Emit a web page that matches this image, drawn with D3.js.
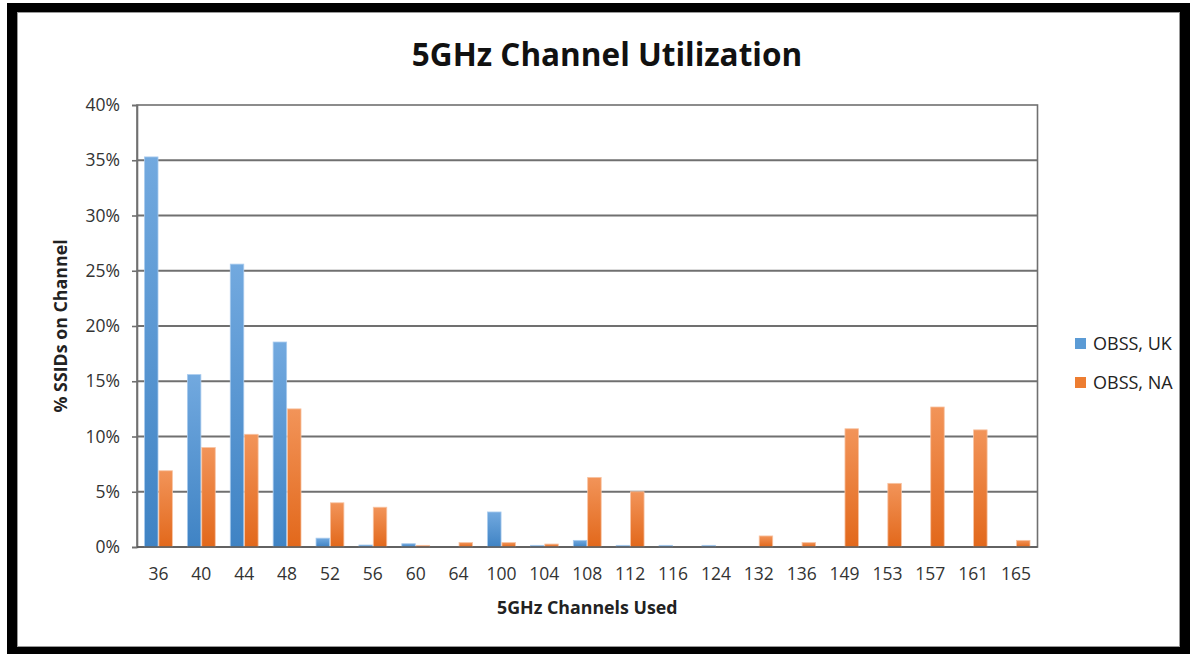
<!DOCTYPE html>
<html lang="en">
<head>
    <meta charset="UTF-8">
    <title>5GHz Channel Utilization</title>
    <style>
        body { margin: 0; background: #fff; }
        svg { display: block; font-family: "Open Sans", Arial, sans-serif; }
        .grid line { stroke: #707070; stroke-width: 1.8px; }
        .tick text { fill: #333; font-family: "Open Sans", Arial, sans-serif; }
    </style>
</head>
<body>
<div id="chart"></div>
<script src="https://d3js.org/d3.v7.min.js"></script>
<script>
    const channels = ["36", "40", "44", "48", "52", "56", "60", "64", "100", "104", "108",
                      "112", "116", "124", "132", "136", "149", "153", "157", "161", "165"];
    const obssUK = [35.3, 15.6, 25.6, 18.55, 0.8, 0.18, 0.3, 0, 3.17, 0.15, 0.6,
                    0.15, 0.15, 0.15, 0, 0, 0, 0, 0, 0, 0];
    const obssNA = [6.9, 9.0, 10.2, 12.5, 4.0, 3.6, 0.15, 0.4, 0.4, 0.27, 6.3,
                    5.0, 0, 0, 1.0, 0.4, 10.7, 5.76, 12.67, 10.6, 0.6];
    const seriesNames = ["OBSS, UK", "OBSS, NA"];
    const yTicks = [0, 5, 10, 15, 20, 25, 30, 35, 40];

    const W = 1190, H = 654;
    const plot = { left: 137, top: 105, right: 1037.5, bottom: 547 };

    const svg = d3.select("#chart").append("svg")
        .attr("width", W).attr("height", H);

    // gradients (lighter at the top)
    const defs = svg.append("defs");
    const grads = [
        { id: "gUK", top: "#72a9df", bottom: "#3f83c4", edge: "#a9cbee" },
        { id: "gNA", top: "#f29459", bottom: "#e2681b", edge: "#f8c3a2" }
    ];
    grads.forEach(g => {
        const lg = defs.append("linearGradient").attr("id", g.id)
            .attr("x1", 0).attr("y1", 0).attr("x2", 0).attr("y2", 1);
        lg.append("stop").attr("offset", "0%").attr("stop-color", g.top);
        lg.append("stop").attr("offset", "100%").attr("stop-color", g.bottom);
    });

    const x0 = d3.scaleBand().domain(channels)
        .range([plot.left, plot.right]).paddingInner(0.31).paddingOuter(0.155);
    const x1 = d3.scaleBand().domain(seriesNames)
        .range([0, x0.bandwidth()]).padding(0.06);
    const y = d3.scaleLinear().domain([0, 40]).range([plot.bottom, plot.top]);

    // gridlines
    svg.append("g").attr("class", "grid")
        .selectAll("line").data(yTicks.slice(1, -1)).join("line")
        .attr("x1", plot.left).attr("x2", plot.right)
        .attr("y1", d => y(d)).attr("y2", d => y(d));

    // plot frame
    svg.append("rect")
        .attr("x", plot.left).attr("y", plot.top)
        .attr("width", plot.right - plot.left).attr("height", plot.bottom - plot.top)
        .attr("fill", "none").attr("stroke", "#707070").attr("stroke-width", 1.6);

    // y axis
    const yAxis = svg.append("g")
        .attr("transform", `translate(${plot.left},0)`)
        .call(d3.axisLeft(y).tickValues(yTicks).tickFormat(d => d + "%").tickSize(5).tickPadding(12));
    yAxis.attr("font-family", null);
    yAxis.select(".domain").attr("stroke", "#707070").attr("stroke-width", 1.6);
    yAxis.selectAll(".tick line").attr("stroke", "#707070").attr("stroke-width", 1.6);
    yAxis.selectAll("text").style("font-size", "17.5px").attr("fill", "#333");

    // bars
    const rows = channels.map((c, i) => ({ ch: c, vals: [obssUK[i], obssNA[i]] }));
    const group = svg.append("g").selectAll("g").data(rows).join("g")
        .attr("transform", d => `translate(${x0(d.ch)},0)`);
    group.selectAll("rect").data(d => d.vals.map((v, k) => ({ k, v })).filter(e => e.v > 0))
        .join("rect")
        .attr("x", d => x1(seriesNames[d.k]))
        .attr("y", d => y(d.v))
        .attr("width", x1.bandwidth())
        .attr("height", d => Math.max(plot.bottom - y(d.v), 1.5))
        .attr("fill", d => `url(#${grads[d.k].id})`)
        .attr("stroke", d => grads[d.k].edge)
        .attr("stroke-width", 0.8);

    // baseline
    svg.append("line")
        .attr("x1", plot.left).attr("x2", plot.right)
        .attr("y1", plot.bottom).attr("y2", plot.bottom)
        .attr("stroke", "#555").attr("stroke-width", 1.6);

    // x axis labels
    const xAxis = svg.append("g")
        .attr("transform", `translate(0,${plot.bottom})`)
        .call(d3.axisBottom(x0).tickSize(0).tickPadding(21));
    xAxis.attr("font-family", null);
    xAxis.select(".domain").remove();
    xAxis.selectAll("text").style("font-size", "17.5px").attr("fill", "#333");

    // title
    svg.append("text")
        .attr("x", 607).attr("y", 66)
        .attr("text-anchor", "middle")
        .style("font-size", "31.5px").style("font-weight", "bold").attr("fill", "#111")
        .text("5GHz Channel Utilization");

    // axis titles
    svg.append("text")
        .attr("x", (plot.left + plot.right) / 2).attr("y", 614)
        .attr("text-anchor", "middle")
        .style("font-size", "17.8px").style("font-weight", "bold").attr("fill", "#222")
        .text("5GHz Channels Used");

    svg.append("text")
        .attr("transform", "translate(67,326) rotate(-90)")
        .attr("text-anchor", "middle")
        .style("font-size", "17.8px").style("font-weight", "bold").attr("fill", "#222")
        .text("% SSIDs on Channel");

    // legend
    const legendColors = ["#5b9bd5", "#ed7d31"];
    const legend = svg.append("g").selectAll("g").data(seriesNames).join("g")
        .attr("transform", (d, i) => `translate(1075,${338 + i * 39})`);
    legend.append("rect").attr("width", 11).attr("height", 11)
        .attr("fill", (d, i) => legendColors[i]);
    legend.append("text").attr("x", 18).attr("y", 12)
        .style("font-size", "18px").attr("fill", "#222")
        .text(d => d);

    // outer black frame
    svg.append("path")
        .attr("fill-rule", "evenodd").attr("fill", "#000")
        .attr("d", `M7,3H1190V654H7Z M17,12V647H1180V12Z`);
    svg.append("rect").attr("x", 17.5).attr("y", 12.5)
        .attr("width", 1162).attr("height", 634)
        .attr("fill", "none").attr("stroke", "#999").attr("stroke-width", 1);
</script>
</body>
</html>
